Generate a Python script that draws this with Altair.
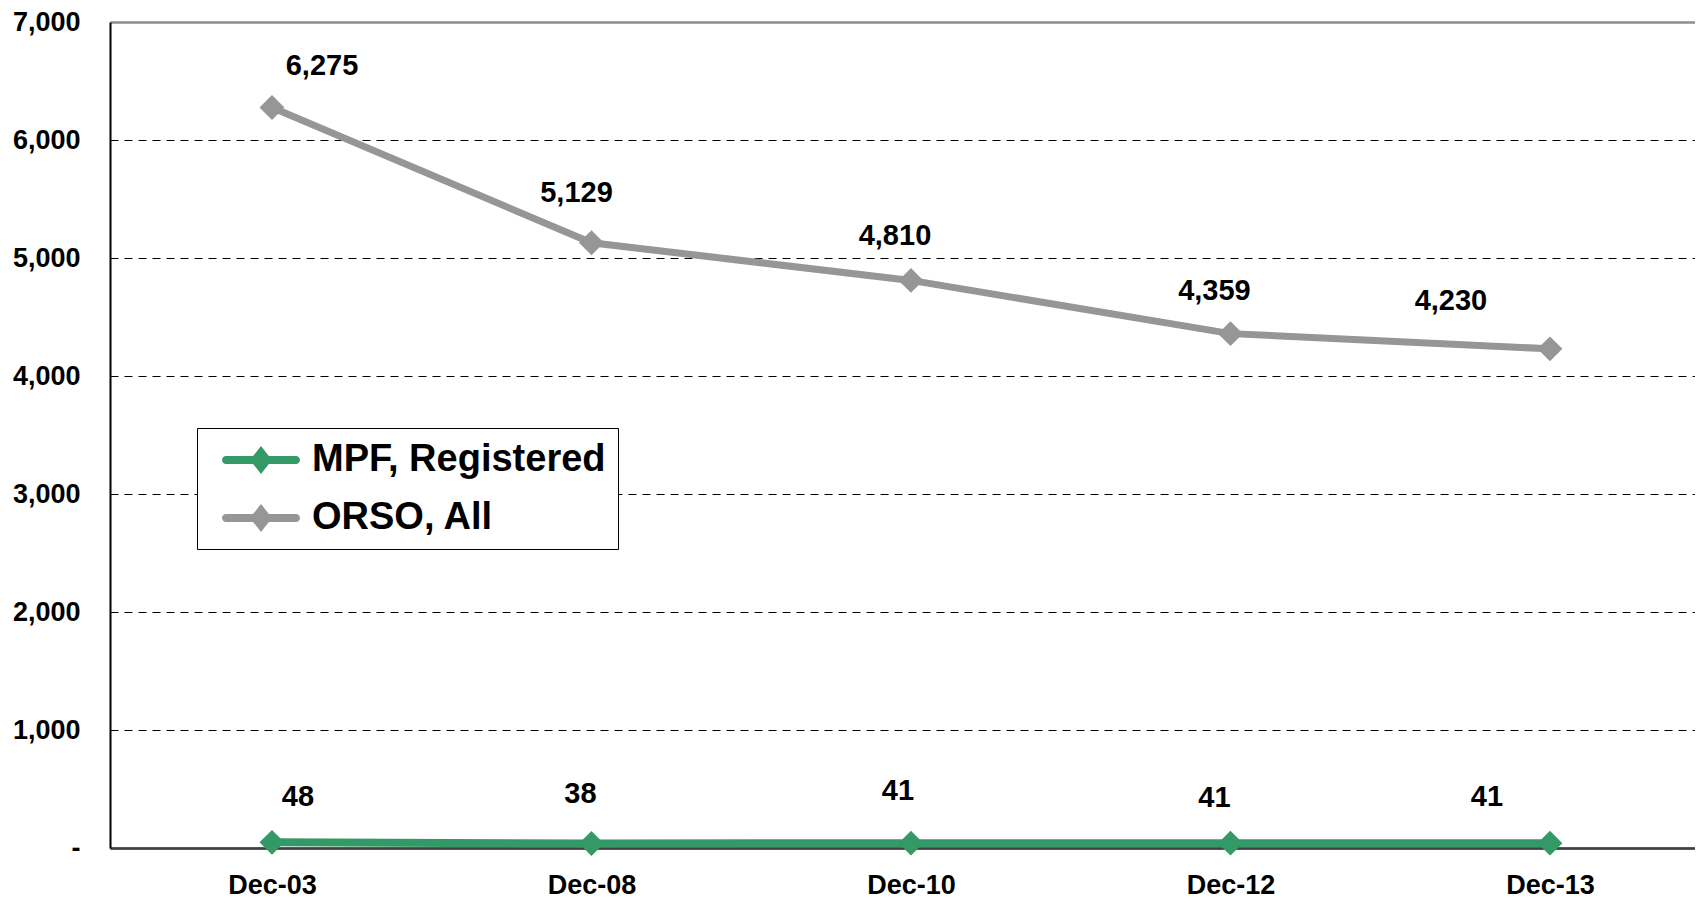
import altair as alt
import pandas as pd

# ---- data ----
categories = ["Dec-03", "Dec-08", "Dec-10", "Dec-12", "Dec-13"]
mpf_values = [48, 38, 41, 41, 41]
orso_values = [6275, 5129, 4810, 4359, 4230]
series_names = ["MPF, Registered", "ORSO, All"]
series_colors = ["#339966", "#969696"]
line_widths = [8, 7]
y_ticks = [0, 1000, 2000, 3000, 4000, 5000, 6000, 7000]

n = len(categories)
df = pd.DataFrame({
    "period": categories * 2,
    "idx": list(range(n)) * 2,
    "series": [series_names[0]] * n + [series_names[1]] * n,
    "value": mpf_values + orso_values,
})
df["label"] = df["value"].map(lambda v: f"{v:,}")

FONT = "Liberation Sans"

# label nudges (pixels) per series / period, as placed in the original
label_nudge = {
    ("ORSO, All", "Dec-03"): (50, -42),
    ("ORSO, All", "Dec-08"): (-15, -50),
    ("ORSO, All", "Dec-10"): (-16, -44),
    ("ORSO, All", "Dec-12"): (-16, -43),
    ("ORSO, All", "Dec-13"): (-99, -48),
    ("MPF, Registered", "Dec-03"): (26, -45),
    ("MPF, Registered", "Dec-08"): (-11, -50),
    ("MPF, Registered", "Dec-10"): (-13, -52),
    ("MPF, Registered", "Dec-12"): (-16, -45),
    ("MPF, Registered", "Dec-13"): (-63, -46),
}

cat_js = "[" + ",".join(f"'{c}'" for c in categories) + "]"

x_enc = alt.X(
    "idx:Q",
    scale=alt.Scale(domain=[-0.507, 4.454], nice=False, zero=False),
    axis=alt.Axis(
        title=None,
        values=list(range(n)),
        labelExpr=f"{cat_js}[datum.value]",
        labelAngle=0,
        labelFont=FONT,
        labelFontSize=27,
        labelFontWeight="bold",
        labelColor="#000000",
        labelPadding=24,
        labelFlush=False,
        labelOverlap=False,
        ticks=False,
        grid=False,
        domainColor="#404040",
        domainWidth=2,
    ),
)

y_enc = alt.Y(
    "value:Q",
    scale=alt.Scale(domain=[0, 7000], nice=False),
    axis=alt.Axis(
        title=None,
        values=y_ticks,
        labelExpr="datum.value === 0 ? '-' : format(datum.value, ',')",
        labelFont=FONT,
        labelFontSize=27,
        labelFontWeight="bold",
        labelColor="#000000",
        labelPadding=30,
        ticks=False,
        domainColor="#000000",
        domainWidth=2,
        grid=True,
        gridColor={"condition": [
            {"test": "datum.value === 7000", "value": "#8c8c8c"},
            {"test": "datum.value === 0", "value": "#404040"},
        ], "value": "#000000"},
        gridDash={"condition": {"test": "datum.value === 7000 || datum.value === 0", "value": []},
                  "value": [8, 6]},
        gridWidth={"condition": {"test": "datum.value === 7000 || datum.value === 0", "value": 2.5},
                   "value": 1},
    ),
)

base = alt.Chart(df)

line_layers = []
for name, col, w in zip(series_names, series_colors, line_widths):
    line_layers.append(
        base.transform_filter(alt.datum.series == name)
        .mark_line(color=col, strokeWidth=w)
        .encode(x=x_enc, y=y_enc, order="idx:Q")
    )

# line-with-diamond legend glyph (unit = sqrt(size)/2 = 20px)
legend_symbol = (
    "M-1.75,-0.2 L1.75,-0.2 A0.2,0.2 0 0 1 1.75,0.2 L-1.75,0.2 A0.2,0.2 0 0 1 -1.75,-0.2 Z "
    "M0,-0.7 L0.55,0 L0,0.7 L-0.55,0 Z"
)

points = base.mark_point(shape="diamond", filled=True, size=620, opacity=1).encode(
    x=x_enc,
    y=y_enc,
    fill=alt.Fill(
        "series:N",
        scale=alt.Scale(domain=series_names, range=series_colors),
        legend=alt.Legend(
            title=None,
            orient="none",
            legendX=87,
            legendY=406,
            direction="vertical",
            strokeColor="#000000",
            fillColor="#ffffff",
            padding=12,
            symbolOffset=32,
            symbolType=legend_symbol,
            symbolSize=1600,
            symbolStrokeWidth=0,
            symbolOpacity=1,
            labelFont=FONT,
            labelFontSize=38,
            labelFontWeight="bold",
            labelColor="#000000",
            labelOffset=31,
            labelLimit=600,
            labelExpr="datum.label + ' '",
            rowPadding=19,
        ),
    ),
)

text_layers = []
for (ser, per), (dx, dy) in label_nudge.items():
    t = base.transform_filter(
        (alt.datum.series == ser) & (alt.datum.period == per)
    ).mark_text(
        font=FONT, fontSize=29, fontWeight="bold", color="#000000",
        align="center", baseline="middle", dx=dx, dy=dy,
    ).encode(x=x_enc, y=y_enc, text="label:N")
    text_layers.append(t)

chart = alt.layer(*line_layers, points, *text_layers).properties(
    width=1585,
    height=826,
    autosize=alt.AutoSizeParams(type="none"),
    padding={"left": 102, "top": 14, "right": 0, "bottom": 52},
    background="#ffffff",
).configure_view(stroke=None)

chart.save("out.html", embed_options={"renderer": "svg", "actions": False})
